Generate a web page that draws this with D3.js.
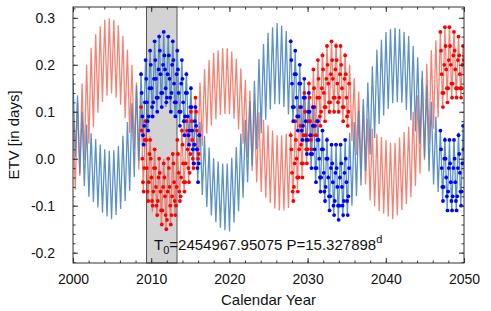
<!DOCTYPE html>
<html>
<head>
<meta charset="utf-8">
<script src="https://cdn.jsdelivr.net/npm/d3@7"></script>
<style>
  body { margin: 0; background: #fff; }
  text { font-family: "Liberation Sans", Arial, Helvetica, sans-serif; }
</style>
</head>
<body>
<svg id="chart" width="491" height="311"></svg>
<script>
"use strict";

// short-period ETV oscillation: one high + one low per cycle
var oscStart = 2000.0,   // year of first cycle maximum
    oscPeriod = 0.58;    // years per short cycle

// primary (red) model, maxima / minima of each cycle, days
var redHigh = [.08,.12,.16,.20,.236,.265,.282,.296,.299,.296,
  .284,.261,.232,.20,.162,.121,.083,.048,.022,.00,
  .00,.004,.015,.037,.066,.085,.104,.133,.162,.191,
  .21,.225,.231,.235,.235,.228,.213,.192,.168,.145,
  .122,.099,.083,.071,.06,.05,.05,.053,.058,.081,
  .11,.139,.166,.19,.21,.227,.24,.25,.247,.24,
  .225,.20,.172,.143,.114,.085,.064,.053,.046,.04,
  .034,.034,.045,.057,.068,.10,.135,.17,.202,.231,
  .252,.27,.278,.283,.275,.261,.244];
var redLow = [-.066,-.037,-.003,.032,.067,.098,.121,.134,.139,.13,
  .115,.087,.055,.02,-.023,-.069,-.093,-.113,-.125,-.136,
  -.148,-.136,-.118,-.095,-.072,-.048,-.025,-.002,.027,.053,
  .071,.084,.093,.095,.095,.085,.062,.032,.003,-.026,
  -.05,-.071,-.083,-.095,-.106,-.11,-.11,-.105,-.094,-.065,
  -.036,-.007,.022,.051,.068,.084,.095,.098,.095,.083,
  .066,.037,.008,-.022,-.055,-.089,-.101,-.111,-.117,-.123,
  -.129,-.121,-.109,-.097,-.082,-.058,-.032,-.003,.032,.064,
  .088,.108,.125,.13,.13,.127,.12];

// secondary (blue) model
var blueHigh = [.17,.135,.10,.073,.054,.042,.03,.02,.017,.018,
  .027,.049,.078,.118,.156,.185,.211,.234,.251,.265,
  .265,.262,.254,.236,.213,.185,.154,.114,.078,.049,
  .024,.001,-.006,-.01,-.01,.002,.025,.053,.083,.123,
  .166,.212,.244,.268,.28,.289,.283,.272,.255,.229,
  .20,.171,.142,.113,.087,.064,.046,.03,.03,.032,
  .038,.055,.078,.102,.127,.162,.197,.232,.253,.27,
  .276,.279,.276,.27,.261,.24,.216,.187,.156,.121,
  .09,.061,.046,.037,.044,.056,.068];
var blueLow = [.003,-.032,-.058,-.081,-.092,-.104,-.115,-.123,-.129,-.12,
  -.107,-.09,-.068,-.039,-.005,.03,.059,.085,.102,.11,
  .11,.101,.088,.071,.052,.028,-.006,-.047,-.077,-.103,
  -.121,-.135,-.147,-.152,-.155,-.136,-.112,-.083,-.05,-.015,
  .02,.054,.083,.105,.116,.116,.11,.094,.076,.059,
  .035,.007,-.023,-.051,-.074,-.095,-.109,-.12,-.129,-.125,
  -.117,-.1,-.08,-.057,-.026,.009,.044,.074,.092,.106,
  .118,.12,.119,.104,.082,.058,.032,.002,-.027,-.055,
  -.071,-.088,-.106,-.11,-.11,-.101,-.093];

// measured / predicted eclipse times: first cycle of each stretch, points per cycle
var dotWindows = [15, 48, 81];
var redDots = [
  [[.11,.06,.00,-.05,-.07,-.02,.04],[.08,.04,-.02,-.07,-.09,-.05,.01],[.04,.00,-.04,-.09,-.10,-.07,-.02],
   [.02,-.02,-.06,-.10,-.12,-.09,-.04],[.00,-.03,-.07,-.11,-.14,-.11,-.06],[-.01,-.04,-.08,-.12,-.15,-.13,-.07],
   [.00,-.02,-.06,-.10,-.14,-.12,-.08],[.01,-.01,-.05,-.09,-.12,-.10,-.06],[.04,.01,-.03,-.07,-.09,-.08,-.04],
   [.06,.03,-.01,-.05,-.07,-.05,-.01],[.08,.06,.02,-.02,-.05,-.03,.01],[.10,.08,.04,.00,-.02,-.01,.03],
   [.13,.10,.06,.02,.00,.01,.05]],
  [[.05,.02,-.03,-.07,-.09,-.06,-.01],[.08,.04,.00,-.04,-.07,-.04,.02],[.11,.07,.03,-.01,-.04,-.01,.05],
   [.14,.10,.05,.02,-.01,.02,.08],[.16,.13,.08,.04,.02,.05,.11],[.19,.15,.11,.07,.05,.08,.13],
   [.21,.17,.13,.09,.07,.10,.15],[.22,.19,.14,.11,.08,.11,.17],[.24,.20,.16,.12,.10,.12,.18],
   [.25,.21,.17,.13,.10,.13,.19],[.24,.21,.16,.12,.10,.13,.18],[.24,.20,.15,.11,.08,.11,.17],
   [.22,.18,.13,.09,.07,.10,.16]],
  [[.27,.23,.18,.14,.11,.14,.20],[.28,.24,.19,.15,.12,.15,.21],[.28,.24,.20,.16,.13,.16,.22],
   [.27,.23,.19,.15,.13,.15,.21],[.26,.22,.18,.15,.13,.15,.20],[.24,.21,.17,.14,.12,.14,.19]]
];
var blueDots = [
  [[.18,.14,.09,.05,.03,.07,.12],[.21,.17,.12,.08,.06,.09,.15],[.23,.20,.15,.11,.09,.12,.17],
   [.25,.21,.17,.13,.10,.13,.19],[.26,.23,.18,.14,.11,.14,.20],[.27,.22,.19,.15,.12,.13,.18],
   [.26,.22,.17,.13,.10,.14,.20],[.25,.21,.16,.12,.09,.12,.18],[.23,.19,.14,.10,.07,.10,.16],
   [.21,.17,.12,.08,.05,.09,.14],[.18,.14,.09,.05,.03,.06,.11],[.15,.11,.06,.02,-.01,.03,.08],
   [.11,.07,.02,-.02,-.05,-.01,.05]],
  [[.25,.21,.16,.11,.08,.11,.18],[.23,.18,.13,.09,.06,.09,.16],[.20,.16,.11,.06,.04,.07,.13],
   [.17,.13,.08,.04,.01,.04,.10],[.14,.10,.05,.01,-.02,.01,.07],[.11,.07,.02,-.02,-.05,-.02,.04],
   [.08,.04,.00,-.04,-.07,-.04,.02],[.06,.02,-.03,-.07,-.09,-.06,.00],[.04,.00,-.04,-.08,-.11,-.08,-.02],
   [.03,-.01,-.05,-.10,-.12,-.09,-.03],[.03,-.02,-.06,-.10,-.13,-.10,-.04],[.03,-.01,-.06,-.10,-.12,-.09,-.03],
   [.04,.00,-.05,-.09,-.12,-.08,-.02]],
  [[.06,.02,-.02,-.06,-.09,-.06,.00],[.04,.00,-.04,-.08,-.11,-.07,-.02],[.04,-.01,-.05,-.09,-.11,-.08,-.02],
   [.04,.00,-.05,-.09,-.11,-.08,-.02],[.05,.01,-.03,-.07,-.10,-.07,-.01],[.07,.02,-.02,-.06,-.09,-.06,.00]]
];

var keplerSpan = [2009.4, 2013.3];
var xTicks = [2000, 2010, 2020, 2030, 2040, 2050],
    yTicks = [-0.2, -0.1, 0.0, 0.1, 0.2, 0.3];

var W = 491, H = 311,
    m = {top: 7, right: 27, bottom: 48, left: 73};

var x = d3.scaleLinear().domain([2000, 2050]).range([m.left, W - m.right]);
var y = d3.scaleLinear().domain([-0.222, 0.323]).range([H - m.bottom, m.top]);

var svg = d3.select("#chart");

svg.append("clipPath").attr("id", "plotclip")
  .append("rect")
    .attr("x", m.left).attr("y", m.top)
    .attr("width", W - m.left - m.right).attr("height", H - m.top - m.bottom);

// Kepler band
svg.append("rect")
  .attr("x", x(keplerSpan[0])).attr("y", m.top)
  .attr("width", x(keplerSpan[1]) - x(keplerSpan[0]))
  .attr("height", H - m.top - m.bottom)
  .attr("fill", "#d3d3d3")
  .attr("stroke", "#555").attr("stroke-width", 1);

function modelPoints(hi, lo) {
  var pts = [];
  hi.forEach(function(v, i) {
    var t = oscStart + i * oscPeriod;
    pts.push([t, v]);
    pts.push([t + oscPeriod / 2, lo[i]]);
  });
  return pts;
}

function dotPoints(windows) {
  var pts = [];
  windows.forEach(function(cycles, w) {
    cycles.forEach(function(vals, c) {
      var t0 = oscStart + (dotWindows[w] + c) * oscPeriod;
      vals.forEach(function(v, j) {
        var t = t0 + j * oscPeriod / vals.length;
        if (t <= 2050) pts.push([t, v]);
      });
    });
  });
  return pts;
}

var line = d3.line()
  .x(function(d) { return x(d[0]); })
  .y(function(d) { return y(d[1]); });

var plot = svg.append("g").attr("clip-path", "url(#plotclip)");

plot.append("path")
  .datum(modelPoints(redHigh, redLow))
  .attr("d", line).attr("fill", "none")
  .attr("stroke", "#f26450").attr("stroke-opacity", 0.8).attr("stroke-width", 1.3);

plot.append("path")
  .datum(modelPoints(blueHigh, blueLow))
  .attr("d", line).attr("fill", "none")
  .attr("stroke", "#4a86c0").attr("stroke-opacity", 0.9).attr("stroke-width", 1.3);

plot.selectAll("circle.red")
  .data(dotPoints(redDots))
  .enter().append("circle")
    .attr("class", "red")
    .attr("cx", function(d) { return x(d[0]); })
    .attr("cy", function(d) { return y(d[1]); })
    .attr("r", 1.9)
    .attr("fill", "#ff0000");

plot.selectAll("circle.blue")
  .data(dotPoints(blueDots))
  .enter().append("circle")
    .attr("class", "blue")
    .attr("cx", function(d) { return x(d[0]); })
    .attr("cy", function(d) { return y(d[1]); })
    .attr("r", 1.9)
    .attr("fill", "#0000ff");

// axes, ticks pointing inward on all four sides
var minorX = d3.range(2000, 2051, 2),
    minorY = d3.range(-0.22, 0.321, 0.02);

function styleAxis(g) {
  g.select(".domain").remove();
  g.selectAll(".tick line").attr("stroke", "#333");
  g.selectAll("text").attr("fill", "#111").style("font-size", "14px");
}

svg.append("g").attr("transform", "translate(0," + (H - m.bottom) + ")")
  .call(d3.axisBottom(x).tickValues(xTicks).tickSize(-5).tickPadding(11).tickFormat(d3.format("d")))
  .call(styleAxis);
svg.append("g").attr("transform", "translate(0," + (H - m.bottom) + ")")
  .call(d3.axisBottom(x).tickValues(minorX).tickSize(-2.5).tickFormat(""))
  .call(styleAxis);
svg.append("g").attr("transform", "translate(0," + m.top + ")")
  .call(d3.axisTop(x).tickValues(xTicks).tickSize(-5).tickFormat(""))
  .call(styleAxis);
svg.append("g").attr("transform", "translate(0," + m.top + ")")
  .call(d3.axisTop(x).tickValues(minorX).tickSize(-2.5).tickFormat(""))
  .call(styleAxis);

svg.append("g").attr("transform", "translate(" + m.left + ",0)")
  .call(d3.axisLeft(y).tickValues(yTicks).tickSize(-5).tickPadding(18)
    .tickFormat(function(d) { return d.toFixed(1); }))
  .call(styleAxis);
svg.append("g").attr("transform", "translate(" + m.left + ",0)")
  .call(d3.axisLeft(y).tickValues(minorY).tickSize(-2.5).tickFormat(""))
  .call(styleAxis);
svg.append("g").attr("transform", "translate(" + (W - m.right) + ",0)")
  .call(d3.axisRight(y).tickValues(yTicks).tickSize(-5).tickFormat(""))
  .call(styleAxis);
svg.append("g").attr("transform", "translate(" + (W - m.right) + ",0)")
  .call(d3.axisRight(y).tickValues(minorY).tickSize(-2.5).tickFormat(""))
  .call(styleAxis);

svg.append("rect")
  .attr("x", m.left).attr("y", m.top)
  .attr("width", W - m.left - m.right).attr("height", H - m.top - m.bottom)
  .attr("fill", "none").attr("stroke", "#333").attr("stroke-width", 1);

// ephemeris note
var note = svg.append("text")
  .attr("x", 154).attr("y", 250)
  .attr("fill", "#111").style("font-size", "15px");
note.append("tspan").text("T");
note.append("tspan").attr("dy", 4).style("font-size", "11px").text("0");
note.append("tspan").attr("dy", -4).text("=2454967.95075 P=15.327898");
note.append("tspan").attr("dy", -7).style("font-size", "11px").text("d");

// axis titles
svg.append("text")
  .attr("x", (m.left + W - m.right) / 2).attr("y", 305)
  .attr("text-anchor", "middle").attr("fill", "#111")
  .style("font-size", "15px")
  .text("Calendar Year");

svg.append("text")
  .attr("transform", "translate(19," + ((m.top + H - m.bottom) / 2) + ") rotate(-90)")
  .attr("text-anchor", "middle").attr("fill", "#111")
  .style("font-size", "15px")
  .text("ETV [in days]");
</script>
</body>
</html>
